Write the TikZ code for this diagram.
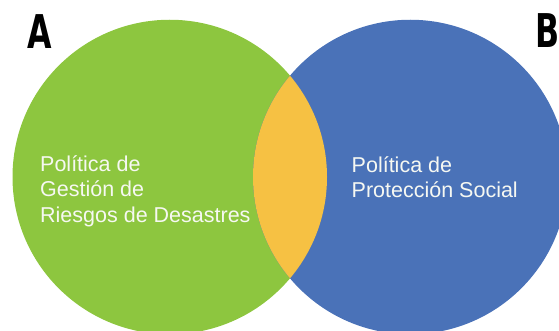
\documentclass[tikz,border=0pt]{standalone}
\usepackage{fontspec}
\setmainfont{Liberation Sans}
\newfontfamily\letterfont{DejaVu Sans}
\usepackage{tikz}
\usetikzlibrary{calc}
\usetikzlibrary{positioning}
\definecolor{grassgreen}{RGB}{141, 198, 63}
\definecolor{steelblue}{RGB}{74, 114, 184}
\definecolor{sunflower}{RGB}{246, 193, 67}
\definecolor{softwhite}{RGB}{246, 248, 242}

\newcommand{\bigletter}[1]{\scalebox{0.68}[1]{\letterfont\bfseries\fontsize{46.5}{46.5}\selectfont #1}}

\tikzset{
    disc/.style    = {circle, draw=none, inner sep=0pt, minimum size=314.5pt},
    caption/.style = {anchor=north west, inner sep=0pt, align=left, text=softwhite,
                      font=\fontsize{21.5}{25.5}\selectfont},
    letter/.style  = {anchor=base, inner sep=0pt, text=black}
}

\begin{document}
\begin{tikzpicture}[x=1pt, y=1pt]
            \useasboundingbox (0,0) rectangle (559,330);
            % the two policies
            \node[disc, fill=grassgreen] (gestion)    at (169.75, 153) {};
            \node[disc, fill=steelblue]  (proteccion) at (410.25, 153) {};
            % overlap
            \begin{scope}
                \clip (gestion.center) circle (157.25);
                \fill[sunflower] (proteccion.center) circle (157.25);
            \end{scope}
            % texts
            \node[caption] (gestiontext)    at ( 40.0, 175.0) {Política de\\Gestión de\\Riesgos de Desastres};
            \node[caption] (protecciontext) at (351.5, 174.0) {Política de\\Protección Social};
            \node[letter]  (labelA) at ( 39.5, 281.0) {\bigletter{A}};
            \node[letter]  (labelB) at (547.5, 282.0) {\bigletter{B}};
        \end{tikzpicture}
\end{document}
